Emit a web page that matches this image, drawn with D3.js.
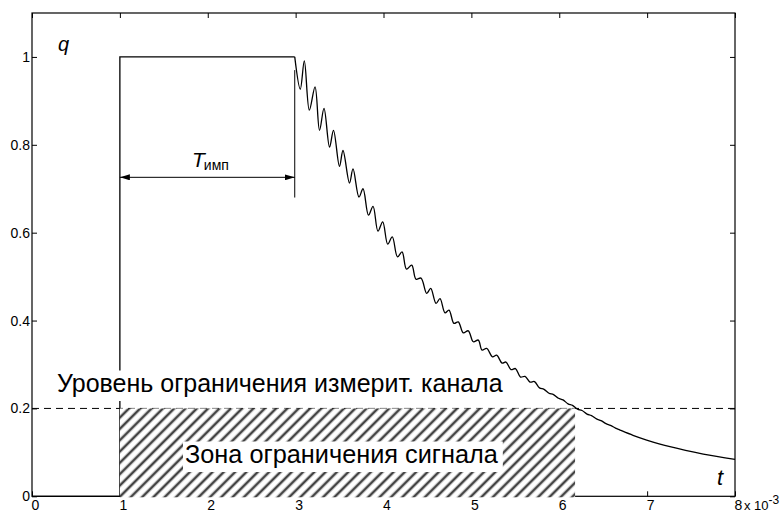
<!DOCTYPE html>
<html><head><meta charset="utf-8">
<script src="https://cdn.jsdelivr.net/npm/d3@7"></script>
<style>body{margin:0;background:#fff}svg{display:block;font-family:"Liberation Sans",Arial,sans-serif}</style>
</head><body><svg id="c" width="782" height="513"></svg>
<script>
// ---- data (t in units of 1e-3, q normalised) ----
const tTicks=[0,1,2,3,4,5,6,7,8];
const qTicks=[0,0.2,0.4,0.6,0.8,1];
const pulseT=[0,1,1,2.99];
const pulseQ=[0,0,1,1];
const decayT=[2.99,3.053,3.099,3.156,3.221,3.272,3.323,3.386,3.431,3.499,3.539,3.613,3.653,3.721,3.767,3.829,3.881,3.937,3.991,4.048,4.100,4.159,4.211,4.262,4.321,4.370,4.427,4.492,4.537,4.598,4.643,4.700,4.745,4.802,4.851,4.908,4.965,5.022,5.079,5.121,5.174,5.240,5.288,5.349,5.394,5.451,5.502,5.559,5.610,5.667,5.718,5.775,5.827,5.883,5.935,5.991,6.043,6.100,6.151,6.208,6.259,6.316,6.367,6.424,6.475,6.532,6.583,6.640,6.691,6.839,6.995,7.260,7.639,8.0];
const decayQ=[1.0,0.9265,0.991,0.879,0.932,0.833,0.883,0.795,0.833,0.751,0.787,0.713,0.745,0.681,0.700,0.640,0.660,0.6035,0.6247,0.574,0.5905,0.545,0.5564,0.517,0.526,0.494,0.4966,0.4618,0.473,0.439,0.450,0.4177,0.4238,0.3935,0.397,0.372,0.3767,0.3517,0.3556,0.3328,0.3367,0.3176,0.3214,0.3032,0.3055,0.2884,0.2907,0.2714,0.2730,0.2600,0.2611,0.2468,0.2434,0.2345,0.2316,0.2232,0.2195,0.2104,0.2068,0.1984,0.1952,0.1872,0.1838,0.1761,0.1724,0.1654,0.1615,0.1551,0.1508,0.1388,0.1281,0.1128,0.0962,0.0842];
const limitQ=0.2;
const zoneT=[1,6.18];
const impT=[1,2.99];
const impArrowQ=0.726;
const impExtQ=[0.68,0.97];
const levelText="Уровень ограничения измерит. канала";
const zoneText="Зона ограничения сигнала";

const svg=d3.select("#c");
const x=d3.scaleLinear().domain([0,8]).range([32,735]);
const y=d3.scaleLinear().domain([0,1.1]).range([496.3,13]);
const X0=x.range()[0],X1=x.range()[1],Y0=y.range()[0],Y1=y.range()[1];

const defs=svg.append("defs");
const pat=defs.append("pattern").attr("id","hatch").attr("patternUnits","userSpaceOnUse")
  .attr("width",8).attr("height",8).attr("patternTransform","rotate(45)");
pat.append("rect").attr("width",8).attr("height",8).attr("fill","#fff");
pat.append("line").attr("x1",4).attr("x2",4).attr("y1",0).attr("y2",8).attr("stroke","#444").attr("stroke-width",2.6);
defs.append("marker").attr("id","arr").attr("viewBox","0 0 10 6").attr("refX",10).attr("refY",3)
  .attr("markerWidth",10).attr("markerHeight",6).attr("markerUnits","userSpaceOnUse").attr("orient","auto-start-reverse")
  .append("path").attr("d","M0,0L10,3L0,6Z").attr("fill","#000");

// axes
const fs=14;
const gx=svg.append("g").attr("transform",`translate(0,${Y0})`)
  .call(d3.axisBottom(x).tickValues(tTicks).tickSize(-5).tickPadding(4).tickFormat(d3.format("d")));
const gxt=svg.append("g").attr("transform",`translate(0,${Y1})`)
  .call(d3.axisTop(x).tickValues(tTicks).tickSize(-5).tickFormat(""));
const gy=svg.append("g").attr("transform",`translate(${X0},0)`)
  .call(d3.axisLeft(y).tickValues(qTicks).tickSize(-5).tickPadding(2).tickFormat(d=>d===0?"0":d===1?"1":d3.format(".1f")(d)));
const gyr=svg.append("g").attr("transform",`translate(${X1},0)`)
  .call(d3.axisRight(y).tickValues(qTicks).tickSize(-5).tickFormat(""));
[gx,gxt,gy,gyr].forEach(g=>{g.select(".domain").remove();g.selectAll("line").attr("stroke","#000");
  g.selectAll("text").attr("font-size",fs).attr("fill","#000").attr("font-family","Liberation Sans, Arial, sans-serif");});
gx.selectAll("text").attr("dx",3);
// exponent label after "8"
svg.append("text").attr("x",x(8)+9).attr("y",Y0+4+0.71*fs+0.2).attr("font-size",13)
  .text("x 10").append("tspan").attr("font-size",12).attr("dy",-6).text("-3");

// frame
svg.append("rect").attr("x",X0).attr("y",Y1).attr("width",X1-X0).attr("height",Y0-Y1)
  .attr("fill","none").attr("stroke","#000").attr("stroke-width",1.2);

// signal
const pts=(T,Q)=>T.map((t,i)=>[t,Q[i]]);
svg.append("path").datum(pts(pulseT,pulseQ)).attr("fill","none").attr("stroke","#000").attr("stroke-width",1.3)
  .attr("d",d3.line().x(d=>x(d[0])).y(d=>y(d[1])));
svg.append("path").datum(pts(decayT,decayQ)).attr("fill","none").attr("stroke","#000").attr("stroke-width",1.3)
  .attr("stroke-linejoin","round")
  .attr("d",d3.line().x(d=>x(d[0])).y(d=>y(d[1])).curve(d3.curveCatmullRom.alpha(0.5)));

// limit line
svg.append("line").attr("x1",X0).attr("x2",X1).attr("y1",y(limitQ)).attr("y2",y(limitQ))
  .attr("stroke","#000").attr("stroke-width",1).attr("stroke-dasharray","7,5");

// hatch zone
svg.append("rect").attr("x",x(zoneT[0])).attr("y",y(limitQ)).attr("width",x(zoneT[1])-x(zoneT[0]))
  .attr("height",Y0-y(limitQ)+1).attr("fill","url(#hatch)");

// texts with white background
function boxed(txt,xx,yy,size){
  const g=svg.append("g");
  const r=g.append("rect").attr("fill","#fff");
  const t=g.append("text").attr("x",xx).attr("y",yy).attr("font-size",size).attr("fill","#000").text(txt);
  const b=t.node().getBBox();
  r.attr("x",b.x-2).attr("y",b.y+1.5).attr("width",b.width+6).attr("height",b.height+2.5);
}
boxed(zoneText,185,463,25.3);
boxed(levelText,57,392,25);

// T_imp dimension
svg.append("line").attr("x1",x(impT[1])).attr("x2",x(impT[1])).attr("y1",y(impExtQ[0])).attr("y2",y(impExtQ[1]))
  .attr("stroke","#000").attr("stroke-width",1);
svg.append("line").attr("x1",x(impT[0])).attr("x2",x(impT[1])).attr("y1",y(impArrowQ)).attr("y2",y(impArrowQ))
  .attr("stroke","#000").attr("stroke-width",1).attr("marker-end","url(#arr)").attr("marker-start","url(#arr)");
const tl=svg.append("text").attr("x",192).attr("y",167).attr("font-size",21);
tl.append("tspan").attr("font-style","italic").text("T");
tl.append("tspan").attr("font-size",14).attr("dy",2.5).attr("dx",-1).text("имп");

// axis letters
svg.append("text").attr("x",58).attr("y",51).attr("font-size",20).attr("font-style","italic").text("q");
svg.append("text").attr("x",717).attr("y",485).attr("font-size",22).attr("font-style","italic").text("t");
</script></body></html>
